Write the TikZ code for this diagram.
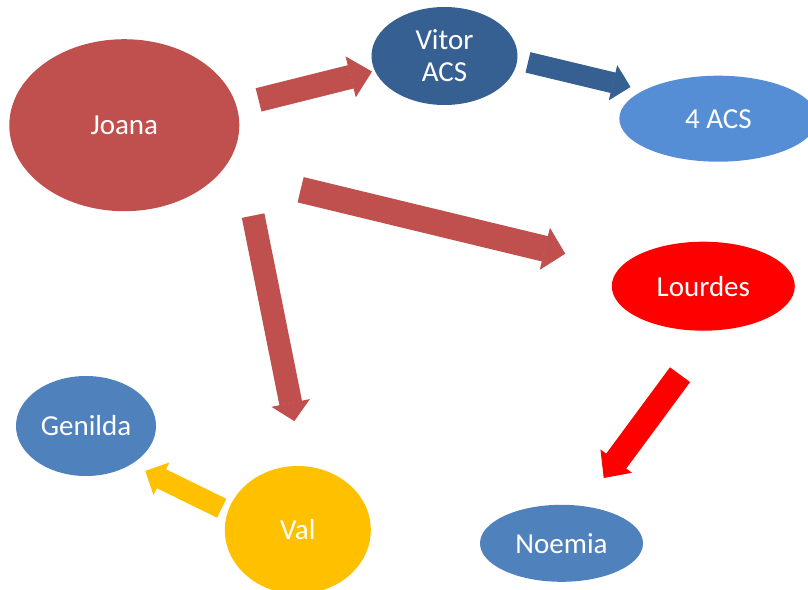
\documentclass[tikz,border=0pt]{standalone}
\usepackage{fontspec}
\setmainfont{Carlito}
\usepackage{xcolor}
\usepackage{tikz}
\usetikzlibrary{shapes.geometric,arrows.meta}

\definecolor{joanared}{HTML}{C0504D}
\definecolor{vitorblue}{HTML}{376092}
\definecolor{acsblue}{HTML}{558ED5}
\definecolor{nodeblue}{HTML}{4F81BD}
\definecolor{valyellow}{HTML}{FFC000}

\tikzset{
    person/.style={ellipse, inner sep=0pt, outer sep=0pt, text=white, align=center,
        font=\fontsize{29}{32}\selectfont},
    blockarrow/.style n args={3}{line width=#1pt,
        -{Triangle[width=#2pt,length=#3pt,line width=1pt]}}
}

\begin{document}
\begin{tikzpicture}[x=1pt,y=-1pt]
    \useasboundingbox (0,0) rectangle (808,589);
    \fill[white] (0,0) rectangle (808,589);

    % people
    \node[person, fill=joanared, minimum width=230pt, minimum height=172pt] (joana) at (124.3,125.2) {Joana};
    \node[person, fill=vitorblue, minimum width=146pt, minimum height=98pt] (vitor) at (444.5,56) {Vitor\\ACS};
    \node[person, fill=acsblue, minimum width=198pt, minimum height=86pt] (acs) at (718.3,118.7) {4 ACS};
    \node[person, fill=red, minimum width=183pt, minimum height=89pt] (lourdes) at (703.3,286.2) {Lourdes};
    \node[person, fill=nodeblue, minimum width=140pt, minimum height=100pt] (genilda) at (86,426) {Genilda};
    \node[person, fill=valyellow, minimum width=146pt, minimum height=128pt] (val) at (297.8,530) {Val};
    \node[person, fill=nodeblue, minimum width=163pt, minimum height=77pt] (noemia) at (561.5,543.3) {Noemia};

    % block arrows
    \draw[blockarrow={24}{42}{22}, joanared, shorten <=23pt, shorten >=3pt] (joana.10) -- (vitor.192);
    \draw[blockarrow={21}{36}{18}, vitorblue, shorten <=11pt, shorten >=14pt] (vitor.-3) -- (acs.159);
    \draw[blockarrow={26}{43}{21}, joanared, shorten <=81pt, shorten >=57pt] (joana.-25) -- (lourdes.167);
    \draw[blockarrow={23}{39}{18.5}, joanared, shorten <=78pt, shorten >=46pt] (joana.-7) -- (val.85);
    \draw[blockarrow={25}{39}{21}, red, shorten <=55pt, shorten >=35pt] (lourdes.-78) -- (noemia.60);
    \draw[blockarrow={21}{36}{18}, valyellow, shorten <=7pt, shorten >=15.5pt] (val.165) -- (genilda.-40);
\end{tikzpicture}
\end{document}
